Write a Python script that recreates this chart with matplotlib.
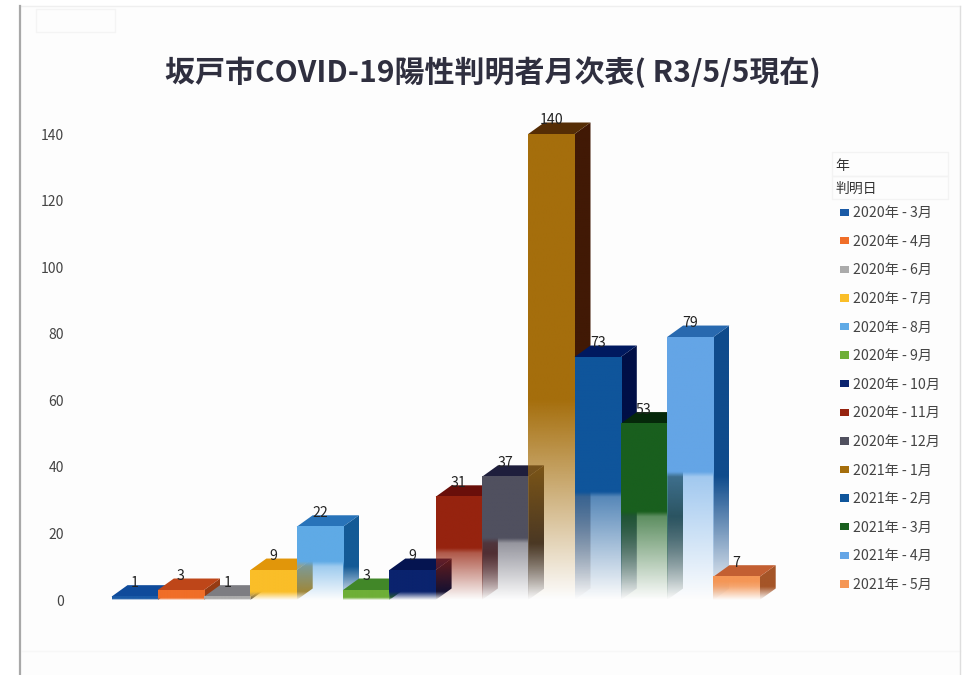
import numpy as np
import matplotlib
matplotlib.use("Agg")
import matplotlib.pyplot as plt
from matplotlib.colors import to_rgb
from matplotlib.patches import Patch, Polygon, Rectangle

plt.rcParams['font.family'] = ['Noto Sans CJK JP', 'DejaVu Sans']

months = ["2020年 - 3月", "2020年 - 4月", "2020年 - 6月", "2020年 - 7月", "2020年 - 8月",
          "2020年 - 9月", "2020年 - 10月", "2020年 - 11月", "2020年 - 12月", "2021年 - 1月",
          "2021年 - 2月", "2021年 - 3月", "2021年 - 4月", "2021年 - 5月"]
cases = [1, 3, 1, 9, 22, 3, 9, 31, 37, 140, 73, 53, 79, 7]
yticks = [0, 20, 40, 60, 80, 100, 120, 140]

front_colors = ["#1a5aa6", "#f06e28", "#ababab", "#fabe28", "#5faae6", "#6eaf37", "#0a236e",
                "#96230f", "#50505f", "#a56e0c", "#0f559b", "#195f1e", "#64a5e6", "#f59655"]
top_colors = ["#0f4b9b", "#be4619", "#7d7d82", "#e1960a", "#2873b9", "#418728", "#051450",
              "#690f0a", "#1e1e3c", "#552d05", "#00195f", "#05280a", "#2869af", "#c35f32"]
side_colors = ["#0a3c80", "#963c14", "#5f5f64", "#aa821e", "#145a96", "#326e1e", "#030f37",
               "#500f0a", "#28232d", "#411905", "#000f46", "#051e08", "#0f4b8c", "#a55528"]
# height where the fade towards the floor starts, and opacity just below it
fade_from = [0.3, 0.6, 0.3, 2.5, 10, 0.8, 2.5, 14, 17, 60, 31, 25, 37, 4]
fade_alpha = [1, 1, 1, 1, 0.6, 1, 1, 0.75, 0.6, 1, 0.7, 0.7, 0.6, 0.85]

W, H = 963, 675
bar_left, bar_pitch = 111.5, 46.3
y0_px, y140_px = 600, 134
px_per_unit = (y0_px - y140_px) / 140
depth_x = 16 / bar_pitch
depth_y = 11.5 / px_per_unit

fig = plt.figure(figsize=(W / 100, H / 100), dpi=100, facecolor="white")

# sheet outline behind the chart
bg = fig.add_axes([0, 0, 1, 1], zorder=0)
bg.set_xlim(0, W)
bg.set_ylim(H, 0)
bg.axis("off")
bg.add_patch(Rectangle((20, 6), 940, H, fc="#fdfdfd", ec="none"))
bg.plot([22, 960], [651, 651], color="#f7f7f7", lw=1)
bg.plot([20, 960], [6, 6], color="#efefef", lw=1)
bg.plot([960, 960], [6, H], color="#dedede", lw=1)
bg.plot([20, 20], [6, H], color="#a8a8a8", lw=1.6)
bg.add_patch(Rectangle((36, 9), 79, 23, fc="none", ec="#f4f4f4", lw=1))
bg.add_patch(Rectangle((832, 152), 116, 24, fc="none", ec="#f3f3f3", lw=1))
bg.add_patch(Rectangle((832, 176), 116, 23, fc="none", ec="#f3f3f3", lw=1))
bg.text(835, 166, "年", fontsize=10, color="#333333", va="center")
bg.text(835, 189, "判明日", fontsize=10, color="#333333", va="center")

ax_l, ax_r, ax_t, ax_b = 60, 800, 100, 640
ax = fig.add_axes([ax_l / W, 1 - ax_b / H, (ax_r - ax_l) / W, (ax_b - ax_t) / H], zorder=1)
ax.patch.set_visible(False)


def gradient(color, top, start, alpha_low, zorder, extent, clip=None):
    # vertical colour ramp, opaque above start and fading out to the floor
    ys = np.linspace(0, top, 400)
    rgba = np.ones((400, 1, 4))
    rgba[:, 0, :3] = to_rgb(color)
    rgba[:, 0, 3] = np.interp(ys, [0, start, start + 1.5], [0, alpha_low, 1])
    im = ax.imshow(rgba, origin="lower", extent=extent, aspect="auto", zorder=zorder,
                   interpolation="bilinear")
    if clip is not None:
        im.set_clip_path(clip)


for i, v in enumerate(cases):
    z = 2 + i * 3
    top_y = v + depth_y
    side = Polygon([(i + 1, 0), (i + 1 + depth_x, depth_y), (i + 1 + depth_x, top_y), (i + 1, v)],
                   closed=True, transform=ax.transData, fc="none", ec="none")
    ax.add_patch(side)
    gradient(side_colors[i], top_y, fade_from[i], 1, z, (i + 1, i + 1 + depth_x, 0, top_y), clip=side)
    ax.fill([i, i + depth_x, i + 1 + depth_x, i + 1], [v, top_y, top_y, v],
            color=top_colors[i], lw=0, zorder=z + 1)
    gradient(front_colors[i], v, fade_from[i], fade_alpha[i], z + 2, (i, i + 1, 0, v))
    ax.annotate(str(v), (i + 0.5, top_y), xytext=(0, 1.5), textcoords="offset points",
                ha="center", va="center", fontsize=10.2, color="#222222", zorder=100)

ax.set_xlim((ax_l - bar_left) / bar_pitch, (ax_r - bar_left) / bar_pitch)
ax.set_ylim((y0_px - ax_b) / px_per_unit, (y0_px - ax_t) / px_per_unit)
ax.set_xticks([])
ax.set_yticks(yticks)
ax.tick_params(axis="y", length=0, pad=-3, labelsize=10, labelcolor="#444444")
for s in ax.spines.values():
    s.set_visible(False)

handles = [Patch(fc=c, ec="none", label=m) for c, m in zip(front_colors, months)]
fig.legend(handles=handles, loc="upper left", bbox_to_anchor=(836 / W, 1 - 202 / H),
           bbox_transform=fig.transFigure, frameon=False, fontsize=10.2, labelcolor="#444444",
           labelspacing=1.03, handlelength=0.64, handleheight=0.42, handletextpad=0.25,
           borderpad=0.3, borderaxespad=0)

fig.text(493 / W, 1 - 72 / H, "坂戸市COVID-19陽性判明者月次表( R3/5/5現在)", ha="center", va="center",
         fontsize=21.6, fontweight="bold", color="#2f2f3f")

fig.savefig("out.png", dpi=100)
